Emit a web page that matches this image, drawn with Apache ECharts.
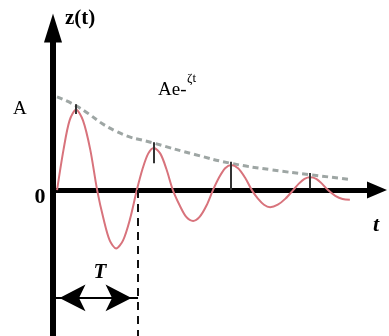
<!DOCTYPE html>
<html>
<head>
<meta charset="utf-8">
<script src="https://cdn.jsdelivr.net/npm/echarts@6/dist/echarts.min.js"></script>
<style>
  html, body { margin: 0; padding: 0; background: #fff; }
  #chart { width: 389px; height: 336px; }
</style>
</head>
<body>
<div id="chart"></div>
<script>
// damped oscillation z(t)
const tVals = [
  0.1, 0.26, 0.41, 0.57, 0.74, 0.92,
  1.09, 1.25, 1.40, 1.56, 1.73, 1.90,
  2.07, 2.21, 2.35, 2.49, 2.65, 2.80,
  2.96, 3.13, 3.29, 3.46, 3.62, 3.79,
  3.95, 4.10, 4.25, 4.40, 4.57, 4.74,
  4.91, 5.06, 5.21, 5.36, 5.55, 5.74,
  5.93, 6.07, 6.21, 6.35, 6.50, 6.64,
  6.79, 6.97, 7.15, 7.33
];
const zVals = [
  0, 0.5, 0.86, 0.99, 0.86, 0.5,
  0, -0.36, -0.62, -0.72, -0.62, -0.36,
  0, 0.26, 0.45, 0.52, 0.45, 0.26,
  0, -0.19, -0.33, -0.38, -0.33, -0.19,
  0, 0.155, 0.27, 0.31, 0.27, 0.155,
  0, -0.105, -0.18, -0.21, -0.18, -0.105,
  0, 0.08, 0.14, 0.16, 0.14, 0.08,
  0, -0.07, -0.11, -0.12
];

// envelope A e^-zeta t (dashed)
const envT = [0.1, 0.57, 1.58, 2.49, 3.5, 4.40, 5.4, 6.35, 7.36];
const envZ = [1.15, 1.04, 0.72, 0.58, 0.44, 0.33, 0.25, 0.19, 0.13];

// small marks at the peaks
const peakT = [0.57, 2.49, 4.40, 6.35];
const peakTop = [1.06, 0.59, 0.35, 0.21];
const peakBottom = [0.94, 0.33, 0, 0.02];

const period = 2.1;
const arrowZ = -1.33;

const dom = document.getElementById("chart");
const myChart = echarts.init(dom, null, { renderer: "canvas" });

const serif = "'Liberation Serif', 'Times New Roman', serif";

const peakLines = peakT.map(function (t, i) {
  return [
    { coord: [t, peakTop[i]], symbol: "none" },
    { coord: [t, peakBottom[i]], symbol: "none" },
  ];
});

const option = {
  animation: false,
  grid: { left: 53, right: 12, top: 28, bottom: 0 },
  xAxis: {
    type: "value",
    min: 0,
    max: 8,
    axisLine: {
      onZero: true,
      symbol: ["none", "triangle"],
      symbolSize: [17, 20],
      lineStyle: { color: "#000", width: 5 },
    },
    axisTick: { show: false },
    axisLabel: { show: false },
    splitLine: { show: false },
  },
  yAxis: {
    type: "value",
    min: -1.8,
    max: 2,
    axisLine: {
      show: true,
      symbol: ["none", "triangle"],
      symbolSize: [18, 29],
      lineStyle: { color: "#000", width: 6 },
    },
    axisTick: { show: false },
    axisLabel: { show: false },
    splitLine: { show: false },
  },
  series: [
    {
      type: "line",
      name: "envelope",
      data: envT.map(function (t, i) { return [t, envZ[i]]; }),
      smooth: true,
      showSymbol: false,
      lineStyle: { color: "#9ea6a4", width: 3, type: [6, 4] },
      z: 2,
    },
    {
      type: "line",
      name: "z(t)",
      data: tVals.map(function (t, i) { return [t, zVals[i]]; }),
      smooth: 0.3,
      showSymbol: false,
      lineStyle: { color: "#d8737c", width: 2 },
      z: 3,
      markLine: {
        silent: true,
        symbol: "none",
        label: { show: false },
        animation: false,
        data: [
          // T arrow
          [
            { coord: [0, arrowZ], symbol: "arrow", symbolSize: [20, 26], symbolOffset: [0, 6.5] },
            { coord: [period, arrowZ], symbol: "arrow", symbolSize: [20, 26], symbolOffset: [0, 6.5] },
          ],
        ],
        lineStyle: { color: "#000", width: 2, type: "solid" },
      },
    },
    {
      type: "line",
      name: "marks",
      data: [],
      markLine: {
        silent: true,
        symbol: "none",
        label: { show: false },
        animation: false,
        lineStyle: { color: "#333", width: 2, type: "solid" },
        data: peakLines.concat([
          [
            { coord: [period, 0], lineStyle: { color: "#111", width: 2, type: [8, 6] } },
            { coord: [period, -1.8] },
          ],
        ]),
      },
    },
  ],
  graphic: [
    { type: "text", left: 65, top: 8, style: { text: "z(t)", font: "bold 21px " + serif, fill: "#000" } },
    { type: "text", x: 13, y: 109, style: { text: "A", font: "19px " + serif, fill: "#000", verticalAlign: "middle" } },
    { type: "text", x: 158, y: 90, style: { text: "Ae-", font: "19px " + serif, fill: "#000", verticalAlign: "middle" } },
    { type: "text", x: 187, y: 79, style: { text: "ζt", font: "13px " + serif, fill: "#000", verticalAlign: "middle" } },
    { type: "text", x: 40, y: 197, style: { text: "0", font: "bold 22px " + serif, fill: "#000", align: "center", verticalAlign: "middle" } },
    { type: "text", x: 376, y: 225, style: { text: "t", font: "italic bold 22px " + serif, fill: "#000", align: "center", verticalAlign: "middle" } },
    { type: "text", x: 100, y: 273, style: { text: "T", font: "italic bold 21px " + serif, fill: "#000", align: "center", verticalAlign: "middle" } },
  ],
};

myChart.setOption(option);
</script>
</body>
</html>
